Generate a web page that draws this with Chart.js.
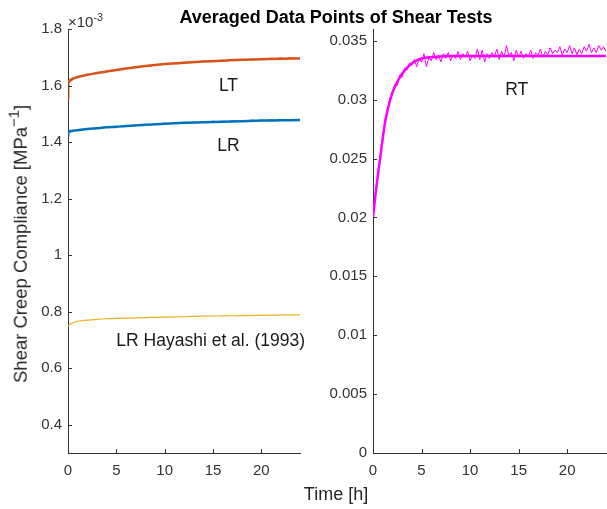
<!DOCTYPE html>
<html lang="en">
<head>
<meta charset="UTF-8" />
<title>Averaged Data Points of Shear Tests</title>
<script src="https://cdn.jsdelivr.net/npm/chart.js"></script>
<style>
  body { margin: 0; background: #fff; font-family: "Liberation Sans", Arial, sans-serif; color: #262626; }
  #wrap { position: relative; width: 607px; height: 509px; overflow: hidden; background: #fff; }
  canvas { position: absolute; top: 0; }
  #left { left: 0; }
  #right { left: 310px; }
  .lbl { position: absolute; white-space: nowrap; line-height: 1; }
  .lbl sup { font-size: 0.72em; vertical-align: 0; position: relative; top: -0.55em; }
  #title { left: 336px; top: 17px; transform: translate(-50%, -50%); font-weight: bold; font-size: 18px; color: #000; }
  #ylab { left: 21px; top: 244px; transform: translate(-50%, -50%) rotate(-90deg); font-size: 18.5px; }
  #ylab sup { font-size: 0.8em; }
  #xlab { left: 336px; top: 494px; transform: translate(-50%, -50%); font-size: 18px; }
  #exp { left: 68px; top: 14px; font-size: 15px; color: #333; }
</style>
</head>
<body>
<div id="wrap">
  <canvas id="left" width="310" height="509"></canvas>
  <canvas id="right" width="297" height="509"></canvas>
  <div class="lbl" id="title">Averaged Data Points of Shear Tests</div>
  <div class="lbl" id="ylab">Shear Creep Compliance [MPa<sup>−1</sup>]</div>
  <div class="lbl" id="xlab">Time [h]</div>
  <div class="lbl" id="exp">×10<sup>-3</sup></div>
</div>
<script>
// left panel values are in units of 10^-3 MPa^-1 (as on the axis)
const xTicks = [0, 5, 10, 15, 20];
const leftYTicks = [0.4, 0.6, 0.8, 1, 1.2, 1.4, 1.6, 1.8];
const rightYTicks = [0, 0.005, 0.01, 0.015, 0.02, 0.025, 0.03, 0.035];

// fitted curves (thick lines)
const fitTime = [0, 0.5, 1, 2, 3, 4, 5, 6, 8, 10, 12, 14, 16, 18, 20, 22, 24];
const ltFit = [1.614, 1.624, 1.630, 1.638, 1.644, 1.650, 1.655, 1.660, 1.669, 1.676, 1.681, 1.685, 1.688, 1.691, 1.693, 1.695, 1.696];
const lrFit = [1.437, 1.440, 1.442, 1.446, 1.449, 1.452, 1.454, 1.457, 1.461, 1.465, 1.468, 1.470, 1.472, 1.474, 1.476, 1.477, 1.478];

// Hayashi et al. (1993) reference curve
const hayashiTime = [0, 0.25, 0.5, 1, 2, 3, 4, 6, 8, 10, 12, 14, 16, 18, 20, 22, 24];
const hayashi = [0.749, 0.756, 0.761, 0.766, 0.770, 0.773, 0.775, 0.777, 0.779, 0.781, 0.782, 0.784, 0.785, 0.786, 0.787, 0.788, 0.789];

// averaged measurement points (thin lines)
const ltTime = [0, 0.1, 0.5, 1, 1.5, 2, 2.5, 3, 3.5, 4, 4.5, 5, 5.5, 6, 6.5, 7, 7.5, 8, 8.5, 9, 9.5, 10, 10.5, 11, 11.5, 12,
  12.5, 13, 13.5, 14, 14.5, 15, 15.5, 16, 16.5, 17, 17.5, 18, 18.5, 19, 19.5, 20, 20.5, 21, 21.5, 22, 22.5, 23, 23.5, 24];
const ltData = [1.552, 1.608, 1.622, 1.631, 1.633, 1.640, 1.639, 1.646, 1.646, 1.652, 1.651, 1.657, 1.656, 1.662, 1.661, 1.665,
  1.666, 1.671, 1.668, 1.674, 1.672, 1.678, 1.676, 1.680, 1.678, 1.683, 1.680, 1.685, 1.682, 1.687, 1.684, 1.688, 1.686, 1.690,
  1.687, 1.691, 1.689, 1.693, 1.690, 1.694, 1.691, 1.695, 1.692, 1.697, 1.694, 1.698, 1.695, 1.699, 1.696, 1.697];
const lrData = [1.419, 1.433, 1.441, 1.443, 1.442, 1.448, 1.446, 1.451, 1.449, 1.454, 1.452, 1.456, 1.454, 1.459, 1.457, 1.461,
  1.459, 1.463, 1.460, 1.465, 1.462, 1.467, 1.464, 1.468, 1.466, 1.470, 1.467, 1.471, 1.469, 1.472, 1.470, 1.474, 1.471, 1.474,
  1.472, 1.476, 1.473, 1.476, 1.474, 1.478, 1.475, 1.478, 1.476, 1.479, 1.477, 1.480, 1.477, 1.480, 1.478, 1.479];

// RT panel (MPa^-1)
const rtFitTime = [0, 0.25, 0.5, 0.75, 1, 1.25, 1.5, 2, 2.5, 3, 3.5, 4, 5, 6, 8, 10, 12, 14, 16, 18, 20, 22, 24];
const rtFit = [0.0200, 0.0219, 0.0236, 0.0251, 0.0267, 0.0281, 0.0291, 0.0306, 0.0315, 0.0322, 0.0327, 0.0331, 0.0335, 0.0336,
  0.0337, 0.0337, 0.0337, 0.0337, 0.0337, 0.0337, 0.0337, 0.0337, 0.0337];
const rtTime = [0, 0.25, 0.5, 0.75, 1, 1.25, 1.5, 1.75, 2, 2.25, 2.5, 2.75, 3, 3.25, 3.5, 3.75, 4, 4.25, 4.5, 4.75, 5, 5.25,
  5.5, 5.75, 6, 6.25, 6.5, 6.75, 7, 7.25, 7.5, 7.75, 8, 8.25, 8.5, 8.75, 9, 9.25, 9.5, 9.75, 10, 10.25, 10.5, 10.75, 11, 11.25,
  11.5, 11.75, 12, 12.25, 12.5, 12.75, 13, 13.25, 13.5, 13.75, 14, 14.25, 14.5, 14.75, 15, 15.25, 15.5, 15.75, 16, 16.25, 16.5,
  16.75, 17, 17.25, 17.5, 17.75, 18, 18.25, 18.5, 18.75, 19, 19.25, 19.5, 19.75, 20, 20.25, 20.5, 20.75, 21, 21.25, 21.5, 21.75,
  22, 22.25, 22.5, 22.75, 23, 23.25, 23.5, 23.75, 24];
const rtData = [
  0.0200, 0.0221, 0.0234, 0.0253, 0.0265, 0.0284, 0.0289, 0.0302, 0.0304, 0.0313, 0.0312, 0.0321, 0.0319, 0.0327, 0.0325, 0.0331,
  0.0329, 0.0334, 0.0328, 0.0335, 0.0332, 0.0339, 0.0328, 0.0336, 0.0333, 0.0340, 0.0334, 0.0338, 0.0332, 0.0339, 0.0335, 0.0340,
  0.0333, 0.0338, 0.0335, 0.0341, 0.0334, 0.0339, 0.0336, 0.0341, 0.0333, 0.0338, 0.0335, 0.0343, 0.0334, 0.0342, 0.0332, 0.0339,
  0.0335, 0.0340, 0.0336, 0.0343, 0.0334, 0.0341, 0.0336, 0.0346, 0.0337, 0.0340, 0.0333, 0.0342, 0.0336, 0.0341, 0.0335, 0.0339,
  0.0337, 0.0342, 0.0335, 0.0340, 0.0338, 0.0343, 0.0336, 0.0341, 0.0338, 0.0344, 0.0339, 0.0342, 0.0340, 0.0345, 0.0338, 0.0343,
  0.0340, 0.0346, 0.0339, 0.0344, 0.0338, 0.0343, 0.0339, 0.0345, 0.0341, 0.0347, 0.0340, 0.0344, 0.0340, 0.0346, 0.0342, 0.0345,
  0.0341];

const axisColor = '#333333';
const fontFamily = '"Liberation Sans", Arial, sans-serif';

function pts(xs, ys) {
  return xs.map((x, i) => ({ x: x, y: ys[i] }));
}

// MATLAB style tick marks pointing into the axes
const inwardTicks = {
  id: 'inwardTicks',
  afterDraw(chart) {
    const { ctx, chartArea: a, scales: { x, y } } = chart;
    ctx.save();
    ctx.strokeStyle = axisColor;
    ctx.lineWidth = 1;
    ctx.beginPath();
    x.ticks.forEach(t => {
      const px = Math.round(x.getPixelForValue(t.value)) + 0.5;
      ctx.moveTo(px, a.bottom);
      ctx.lineTo(px, a.bottom - 4);
    });
    y.ticks.forEach(t => {
      const py = Math.round(y.getPixelForValue(t.value)) + 0.5;
      ctx.moveTo(a.left, py);
      ctx.lineTo(a.left + 4, py);
    });
    ctx.stroke();
    ctx.restore();
  }
};

// text labels placed in data coordinates
const notes = {
  id: 'notes',
  afterDraw(chart, args, opts) {
    const { ctx, scales: { x, y } } = chart;
    ctx.save();
    ctx.fillStyle = '#1a1a1a';
    ctx.font = '17.5px ' + fontFamily;
    ctx.textBaseline = 'middle';
    (opts.items || []).forEach(n => {
      ctx.textAlign = n.align || 'center';
      ctx.fillText(n.text, x.getPixelForValue(n.x), y.getPixelForValue(n.y));
    });
    ctx.restore();
  }
};

function makeScales(yMin, yMax, yTicks, yWidth) {
  const tickFont = { size: 15, family: fontFamily };
  return {
    x: {
      type: 'linear', min: 0, max: 24,
      afterBuildTicks: s => { s.ticks = xTicks.map(v => ({ value: v })); },
      afterFit: s => { s.height = 56; },
      grid: { drawOnChartArea: false, drawTicks: false },
      border: { color: axisColor, width: 1 },
      ticks: { color: axisColor, font: tickFont, padding: 9, maxRotation: 0, callback: v => String(v) }
    },
    y: {
      type: 'linear', min: yMin, max: yMax,
      afterBuildTicks: s => { s.ticks = yTicks.map(v => ({ value: v })); },
      afterFit: s => { s.width = yWidth; },
      grid: { drawOnChartArea: false, drawTicks: false },
      border: { color: axisColor, width: 1 },
      ticks: { color: axisColor, font: tickFont, padding: 6, callback: v => String(v) }
    }
  };
}

const common = {
  responsive: false,
  animation: false,
  events: [],
  elements: { point: { radius: 0 }, line: { tension: 0 } }
};

new Chart(document.getElementById('left'), {
  type: 'line',
  data: {
    datasets: [
      { data: pts(fitTime, ltFit), borderColor: '#D95319', borderWidth: 2.5, cubicInterpolationMode: 'monotone', order: 0 },
      { data: pts(fitTime, lrFit), borderColor: '#0072BD', borderWidth: 2.5, cubicInterpolationMode: 'monotone', order: 0 },
      { data: pts(ltTime, ltData), borderColor: '#D95319', borderWidth: 1, order: 1 },
      { data: pts(ltTime, lrData), borderColor: '#0072BD', borderWidth: 1, order: 1 },
      { data: pts(hayashiTime, hayashi), borderColor: '#EDB120', borderWidth: 1.2, cubicInterpolationMode: 'monotone', order: 1 }
    ]
  },
  options: Object.assign({}, common, {
    layout: { padding: { top: 29, right: 10, left: 0, bottom: 0 } },
    plugins: {
      legend: { display: false },
      tooltip: { enabled: false },
      notes: {
        items: [
          { text: 'LT', x: 16.6, y: 1.598 },
          { text: 'LR', x: 16.6, y: 1.386 },
          { text: 'LR Hayashi et al. (1993)', x: 5.0, y: 0.696, align: 'left' }
        ]
      }
    },
    scales: makeScales(0.3, 1.8, leftYTicks, 68)
  }),
  plugins: [inwardTicks, notes]
});

new Chart(document.getElementById('right'), {
  type: 'line',
  data: {
    datasets: [
      { data: pts(rtFitTime, rtFit), borderColor: '#FF00FF', borderWidth: 2.5, cubicInterpolationMode: 'monotone', order: 0 },
      { data: pts(rtTime, rtData), borderColor: '#FF00FF', borderWidth: 1, order: 1 }
    ]
  },
  options: Object.assign({}, common, {
    layout: { padding: { top: 29, right: 1, left: 0, bottom: 0 } },
    plugins: {
      legend: { display: false },
      tooltip: { enabled: false },
      notes: { items: [{ text: 'RT', x: 14.8, y: 0.0308 }] }
    },
    scales: makeScales(0, 0.036, rightYTicks, 63)
  }),
  plugins: [inwardTicks, notes]
});
</script>
</body>
</html>
